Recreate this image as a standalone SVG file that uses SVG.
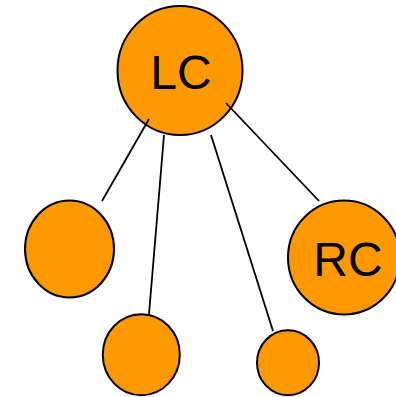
<svg xmlns="http://www.w3.org/2000/svg" width="396" height="397" viewBox="0 0 396 397">
<style>
.n{fill:#FF9900;stroke:#000;stroke-width:2}
.c line{stroke:#000;stroke-width:1.8}
.t{font-family:"Liberation Sans",Arial,sans-serif;font-size:48px;fill:#000;text-anchor:middle}
</style>
<rect width="396" height="397" fill="#fff"/>
<g id="LC"><ellipse class="n" cx="180" cy="70.5" rx="62.5" ry="64.5"/><text class="t" x="181" y="89">LC</text></g>
<g id="RC"><ellipse class="n" cx="344" cy="257.5" rx="56" ry="57"/><text class="t" x="348" y="276">RC</text></g>
<g id="n1"><ellipse class="n" cx="69.5" cy="249" rx="44.5" ry="48.5"/></g>
<g id="n2"><ellipse class="n" cx="141.3" cy="354.7" rx="38.5" ry="40.5"/></g>
<g id="n3"><ellipse class="n" cx="288" cy="362.7" rx="31" ry="32.5"/></g>
<g id="connectors" class="c">
<line x1="149" y1="119" x2="102" y2="201"/>
<line x1="164" y1="135" x2="149" y2="314"/>
<line x1="211" y1="135" x2="273" y2="331"/>
<line x1="226" y1="103" x2="319" y2="201"/>
</g>
</svg>
